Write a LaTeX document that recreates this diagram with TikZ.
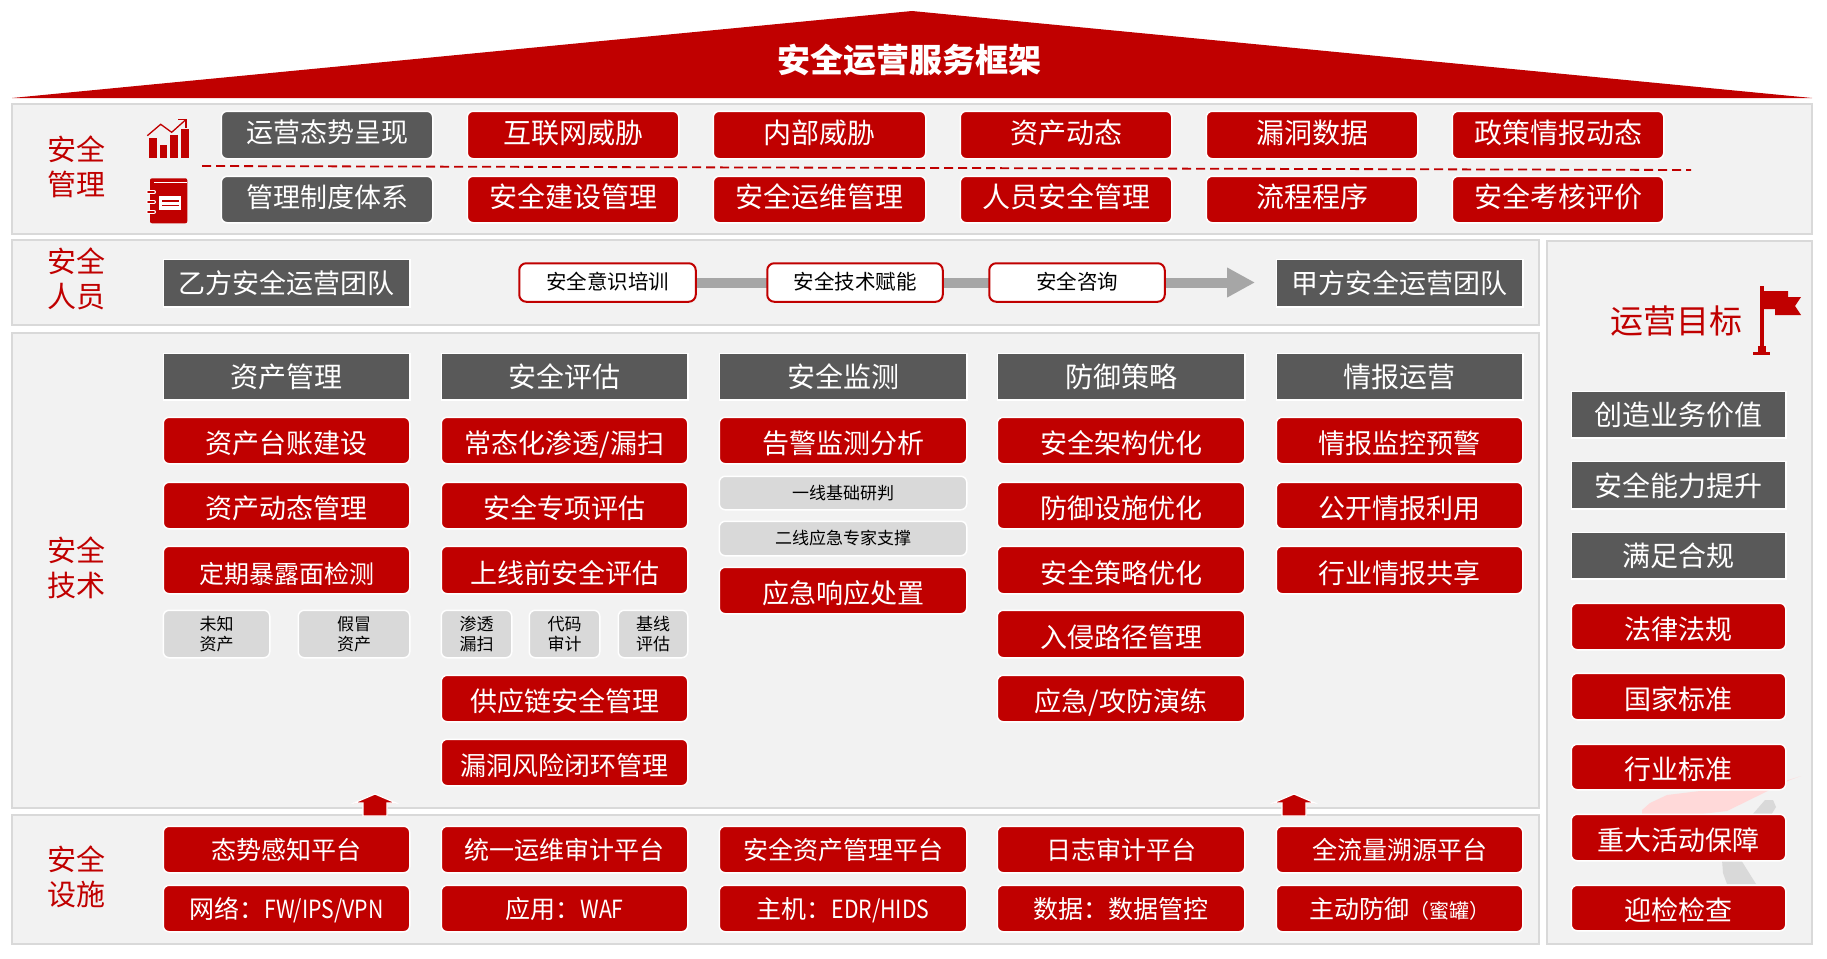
\documentclass[tikz,border=0pt]{standalone}
\usepackage{fontspec}
\setmainfont{Noto Sans CJK SC}
\usetikzlibrary{arrows.meta}
\definecolor{brand}{HTML}{C00000}
\definecolor{slate}{HTML}{595959}
\definecolor{panelfill}{HTML}{F2F2F2}
\definecolor{panelline}{HTML}{D9D9D9}
\definecolor{flow}{HTML}{A6A6A6}
\definecolor{wmpink}{HTML}{FFD9D9}
\newcommand\fs[1]{\fontsize{#1}{#1}\selectfont}
\tikzset{
  base/.style={inner sep=0pt,outer sep=0pt,align=center},
  tx/.style 2 args={text height={(#1*.86+2*max(#2,0))*1pt},text depth={(#1*.10+2*max(0-(#2),0))*1pt},font=\fs{#1}},
  panel/.style={draw=panelline,fill=panelfill,line width=2pt},
  redbox/.style={base,fill=brand,draw=white,line width=1.5pt,rounded corners=6pt,text=white,tx={27}{3}},
  goalred/.style={redbox,tx={27}{2.5}},
  mgmtred/.style={redbox,tx={28}{-2.3}},
  mgmtgrey/.style={redbox,fill=slate,tx={27}{-2.3}},
  infrabox/.style={redbox,tx={25}{0.6}},
  platbox/.style={redbox,tx={25}{0}},
  headbox/.style={base,fill=slate,draw=white,line width=1.5pt,text=white,tx={28}{.8}},
  teambox/.style={headbox,tx={27}{0}},
  pill/.style={base,fill=white,draw=brand,line width=2pt,rounded corners=7pt,text=black,tx={20.5}{-1}},
  smallbox/.style={fill=panelline,draw=white,line width=1.5pt,rounded corners=6pt,inner sep=0pt,outer sep=0pt,align=center,text=black,font=\fontsize{17}{20}\selectfont},
  sidelabel/.style={inner sep=0pt,align=center,text=brand,font=\fontsize{29}{35}\selectfont},
  flowline/.style={draw=flow,line width=10pt},
  uparrow/.style={fill=brand,draw=white,line width=1.2pt,line join=miter},
}
\newcommand\bx[7]{\node[#1,minimum width={(#5-#3+1.5)*1pt},minimum height={(#6-#4+1.5)*1pt}] (#2) at ({(#3+#5)/2},{(#4+#6)/2}) {#7};}
\newcommand\narrow[1]{\scalebox{.85}[1]{#1}}
\begin{document}
\begin{tikzpicture}[x=1pt,y=-1pt]
\useasboundingbox (0,0) rectangle (1827,958);
% roof
\fill[brand] (12,98) -- (912,11) -- (1812,98) -- cycle;
\node[inner sep=0pt,text=white,font=\fs{33}\bfseries] (title) at (909,60) {安全运营服务框架};
% panels
\draw[panel] (12,104) rectangle (1812,234);
\draw[panel] (12,240) rectangle (1539,325);
\draw[panel] (12,333) rectangle (1539,808);
\draw[panel] (12,815) rectangle (1539,944);
\draw[panel] (1547,241) rectangle (1812,944);
% watermark
\fill[wmpink] (1642,815) -- (1642,810) -- (1650,803) -- (1667,795) -- (1700,791) -- (1757,790) -- (1801,776) -- (1790,780) -- (1727,811) -- (1693,815) -- cycle;
\fill[panelline] (1752,815) -- (1765,800) -- (1773,800) -- (1776,807) -- (1771,815) -- cycle;
\fill[panelline] (1722,860) -- (1741,860) -- (1756,884) -- (1727,884) -- (1723,873) -- cycle;
% side labels
\node[sidelabel] (lmgmt) at (76,167) {安全\\管理};
\node[sidelabel] (lpeop) at (76,279) {安全\\人员};
\node[sidelabel] (ltech) at (76,568) {安全\\技术};
\node[sidelabel] (linfr) at (76,877) {安全\\设施};
% icons
\fill[brand] (149.3,138) rectangle (156.7,158);
\fill[brand] (160,145) rectangle (167.3,158);
\fill[brand] (170.3,135) rectangle (178,158);
\fill[brand] (181.3,129) rectangle (188.7,158);
\draw[brand,line width=1.3pt] (147.3,135.7) -- (160.7,124.3) -- (171.7,132.3) -- (186,119.5);
\draw[brand,line width=1.3pt] (178.3,119.3) -- (186,119.3) -- (186,128);
\fill[brand,rounded corners=2pt] (150,178.3) rectangle (187.3,223.3);
\draw[white,line width=1.6pt] (154,182.5) -- (187.3,182.5);
\fill[white] (159.3,195.7) rectangle (181.3,210.3);
\draw[brand,line width=1.4pt] (162.3,201) -- (178.7,201) (162.3,205.7) -- (178.7,205.7);
\foreach \ry in {192.3,202,211.7}{
  \draw[white,line width=4pt,line cap=round] (148,\ry) -- (154,\ry);
  \draw[brand,line width=1.8pt,line cap=round] (148,\ry) -- (154,\ry);
}
% dashed divider
\coordinate (dashL) at (202,166);
\coordinate (dashR) at (1691,170);
\draw[brand,line width=1.8pt,dash pattern=on 9pt off 5pt] (dashL) -- (dashR);
% management rows
\bx{mgmtgrey}{m1}{222}{112}{432}{158}{运营态势呈现}
\bx{mgmtred}{m2}{468}{112}{678}{158}{互联网威胁}
\bx{mgmtred}{m3}{714}{112}{925}{158}{内部威胁}
\bx{mgmtred}{m4}{961}{112}{1171}{158}{资产动态}
\bx{mgmtred}{m5}{1207}{112}{1417}{158}{漏洞数据}
\bx{mgmtred}{m6}{1453}{112}{1663}{158}{政策情报动态}
\bx{mgmtgrey}{n1}{222}{177}{432}{222}{管理制度体系}
\bx{mgmtred}{n2}{468}{177}{678}{222}{安全建设管理}
\bx{mgmtred}{n3}{714}{177}{925}{222}{安全运维管理}
\bx{mgmtred}{n4}{961}{177}{1171}{222}{人员安全管理}
\bx{mgmtred}{n5}{1207}{177}{1417}{222}{流程程序}
\bx{mgmtred}{n6}{1453}{177}{1663}{222}{安全考核评价}
% people row
\bx{teambox}{yi}{164}{260}{409}{306}{乙方安全运营团队}
\bx{teambox}{jia}{1277}{260}{1522}{306}{甲方安全运营团队}
\coordinate (c1) at (608,282.5);
\coordinate (c2) at (855.5,282.5);
\coordinate (c3) at (1077.5,282.5);
\coordinate (ptip) at (1255,282.5);
\draw[flowline] (c1) -- (c2);
\draw[flowline] (c2) -- (c3);
\draw[flowline,-{Triangle[width=28pt,length=28pt]}] (c3) -- (ptip);
\bx{pill}{p1}{520}{264}{695}{301}{安全意识培训}
\bx{pill}{p2}{768}{264}{942}{301}{安全技术赋能}
\bx{pill}{p3}{990}{264}{1164}{301}{安全咨询}
% column headers
\bx{headbox}{h1}{164}{354}{409}{399}{资产管理}
\bx{headbox}{h2}{442}{354}{687}{399}{安全评估}
\bx{headbox}{h3}{720}{354}{966}{399}{安全监测}
\bx{headbox}{h4}{998}{354}{1244}{399}{防御策略}
\bx{headbox}{h5}{1277}{354}{1522}{399}{情报运营}
% column 1
\bx{redbox}{a1}{164}{418}{409}{463}{资产台账建设}
\bx{redbox}{a2}{164}{483}{409}{528}{资产动态管理}
\bx{redbox}{a3}{164}{547}{409}{593}{\fs{25}定期暴露面检测}
\bx{smallbox}{a4}{164}{611}{269}{657}{未知\\资产}
\bx{smallbox}{a5}{299}{611}{409}{657}{假冒\\资产}
% column 2
\bx{redbox}{b1}{442}{418}{687}{463}{常态化渗透/漏扫}
\bx{redbox}{b2}{442}{483}{687}{528}{安全专项评估}
\bx{redbox}{b3}{442}{547}{687}{593}{上线前安全评估}
\bx{smallbox}{b4}{442}{611}{511}{657}{渗透\\漏扫}
\bx{smallbox}{b5}{530}{611}{599}{657}{代码\\审计}
\bx{smallbox}{b6}{619}{611}{687}{657}{基线\\评估}
\bx{redbox}{b7}{442}{676}{687}{721}{供应链安全管理}
\bx{redbox}{b8}{442}{740}{687}{785}{\fs{26}漏洞风险闭环管理}
% column 3
\bx{redbox}{c1}{720}{418}{966}{463}{告警监测分析}
\bx{smallbox}{c2}{720}{477}{966}{509}{一线基础研判}
\bx{smallbox}{c3}{720}{522}{966}{555}{二线应急专家支撑}
\bx{redbox}{c4}{720}{568}{966}{613}{应急响应处置}
% column 4
\bx{redbox}{d1}{998}{418}{1244}{463}{安全架构优化}
\bx{redbox}{d2}{998}{483}{1244}{528}{防御设施优化}
\bx{redbox}{d3}{998}{547}{1244}{593}{安全策略优化}
\bx{redbox}{d4}{998}{611}{1244}{657}{入侵路径管理}
\bx{redbox}{d5}{998}{676}{1244}{721}{应急/攻防演练}
% column 5
\bx{redbox}{e1}{1277}{418}{1522}{463}{情报监控预警}
\bx{redbox}{e2}{1277}{483}{1522}{528}{公开情报利用}
\bx{redbox}{e3}{1277}{547}{1522}{593}{行业情报共享}
% up arrows
\draw[uparrow] (375,794) -- (396,803) -- (387,803) -- (387,816) -- (363,816) -- (363,803) -- (354,803) -- cycle;
\draw[uparrow] (1294,794) -- (1315,803) -- (1306,803) -- (1306,816) -- (1282,816) -- (1282,803) -- (1273,803) -- cycle;
% infrastructure
\bx{infrabox}{f1}{164}{827}{409}{872}{态势感知平台}
\bx{infrabox}{f2}{442}{827}{687}{872}{统一运维审计平台}
\bx{infrabox}{f3}{720}{827}{966}{872}{安全资产管理平台}
\bx{infrabox}{f4}{998}{827}{1244}{872}{日志审计平台}
\bx{infrabox}{f5}{1277}{827}{1522}{872}{全流量溯源平台}
\bx{platbox}{g1}{164}{886}{409}{931}{网络：\narrow{FW/IPS/VPN}}
\bx{platbox}{g2}{442}{886}{687}{931}{应用：\narrow{WAF}}
\bx{platbox}{g3}{720}{886}{966}{931}{主机：\narrow{EDR/HIDS}}
\bx{platbox}{g4}{998}{886}{1244}{931}{数据：数据管控}
\bx{platbox}{g5}{1277}{886}{1522}{931}{主动防御{\fs{20}（蜜罐）}}
% goals
\node[inner sep=0pt,text=brand,font=\fs{33}] (goal) at (1676,321) {运营目标};
\fill[brand] (1760,286) rectangle (1763.5,348);
\fill[brand] (1763,291) -- (1788,291) -- (1788,297) -- (1801,297) -- (1795,306) -- (1801,315) -- (1775,315) -- (1775,309) -- (1763,309) -- cycle;
\fill[brand] (1758,346) rectangle (1766,353);
\fill[brand] (1753,351.5) rectangle (1770,355);
\bx{headbox}{t1}{1572}{392}{1785}{437}{创造业务价值}
\bx{headbox}{t2}{1572}{462}{1785}{508}{安全能力提升}
\bx{headbox}{t3}{1572}{533}{1785}{578}{满足合规}
\bx{goalred}{t4}{1572}{604}{1785}{649}{法律法规}
\bx{goalred}{t5}{1572}{674}{1785}{719}{国家标准}
\bx{goalred}{t6}{1572}{745}{1785}{789}{行业标准}
\bx{goalred}{t7}{1572}{815}{1785}{860}{重大活动保障}
\bx{goalred}{t8}{1572}{886}{1785}{930}{迎检检查}
\end{tikzpicture}
\end{document}
